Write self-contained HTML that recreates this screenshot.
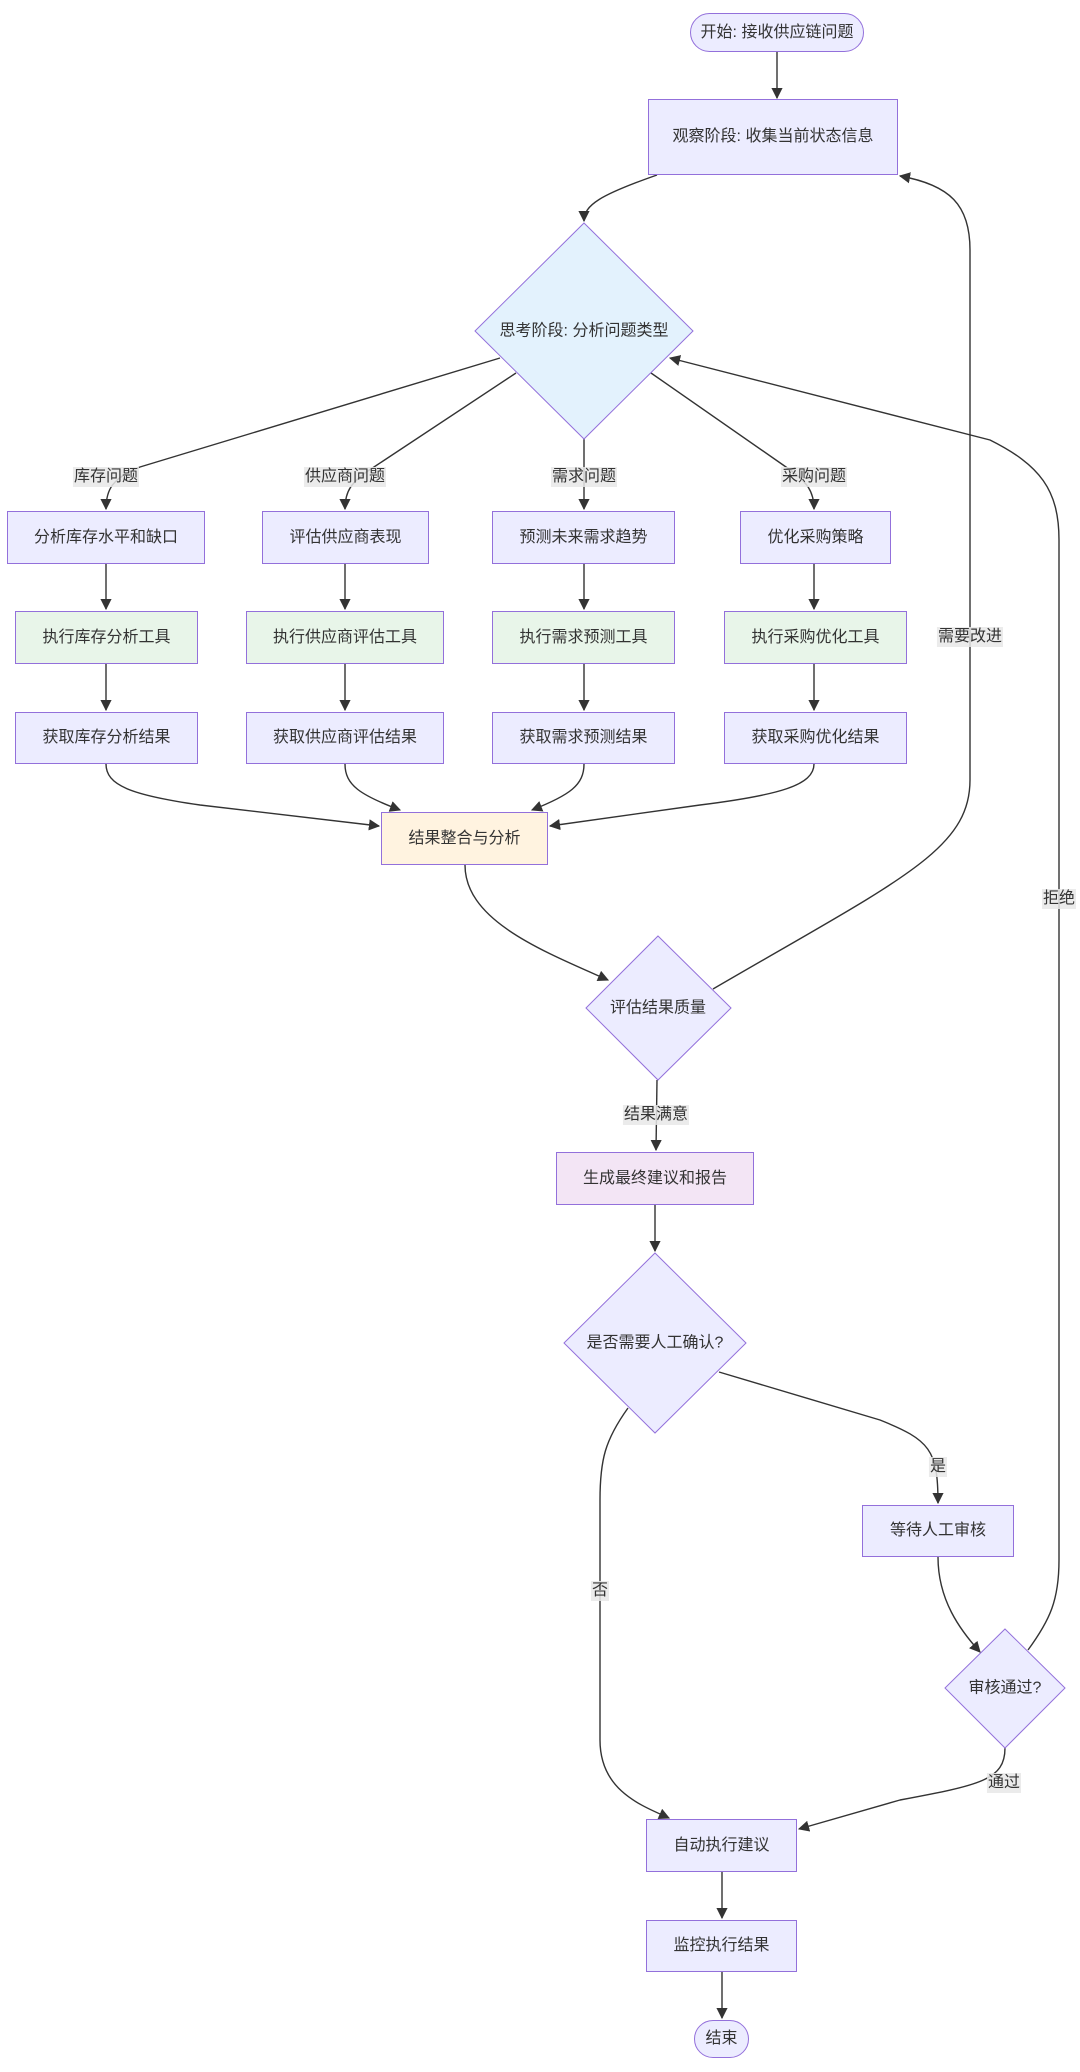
<!DOCTYPE html>
<html><head><meta charset="utf-8"><style>
html,body{margin:0;padding:0;background:#fff;}
body{width:1080px;height:2072px;position:relative;overflow:hidden;font-family:"Liberation Sans","Noto Sans CJK SC",sans-serif;font-size:16px;color:#333;}
.n{position:absolute;box-sizing:border-box;border:1px solid #9370DB;background:#ECECFF;display:flex;align-items:center;justify-content:center;text-align:center;line-height:24px;}
.g{background:#E8F5E9;}
.l{position:absolute;background:rgba(232,232,232,0.85);font-size:16px;line-height:20px;padding:0 1px;transform:translate(-50%,-50%);white-space:nowrap;}
svg{position:absolute;left:0;top:0;}
</style></head><body>
<svg width="1080" height="2072" viewBox="0 0 1080 2072">
<defs><marker id="a" viewBox="0 0 10 10" refX="9" refY="5" markerWidth="8" markerHeight="8" orient="auto-start-reverse"><path d="M0,0 L10,5 L0,10 z" fill="#333"/></marker></defs>
<g fill="none" stroke="#333" stroke-width="1.4">
<path d="M777,52 L777,98" marker-end="url(#a)"/>
<path d="M657,175 C600,195 584,205 584,221" marker-end="url(#a)"/>
<path d="M500,358 L140,467 C112,478 106,490 106,509" marker-end="url(#a)"/>
<path d="M516,373 L374,467 C350,482 345,492 345,509" marker-end="url(#a)"/>
<path d="M584,439 L584,509" marker-end="url(#a)"/>
<path d="M651,373 L786,467 C808,482 814,492 814,509" marker-end="url(#a)"/>
<path d="M106,564 L106,609" marker-end="url(#a)"/>
<path d="M345,564 L345,609" marker-end="url(#a)"/>
<path d="M584,564 L584,609" marker-end="url(#a)"/>
<path d="M814,564 L814,609" marker-end="url(#a)"/>
<path d="M106,664 L106,710" marker-end="url(#a)"/>
<path d="M345,664 L345,710" marker-end="url(#a)"/>
<path d="M584,664 L584,710" marker-end="url(#a)"/>
<path d="M814,664 L814,710" marker-end="url(#a)"/>
<path d="M106,764 C106,785 130,795 200,805 L379,826" marker-end="url(#a)"/>
<path d="M345,764 C345,785 360,795 400,810" marker-end="url(#a)"/>
<path d="M584,764 C584,785 570,795 532,810" marker-end="url(#a)"/>
<path d="M814,764 C814,785 780,795 700,805 L550,826" marker-end="url(#a)"/>
<path d="M465,865 C465,920 540,950 608,980" marker-end="url(#a)"/>
<path d="M713,989 C900,880 970,850 970,780 L970,250 C970,205 950,185 900,176" marker-end="url(#a)"/>
<path d="M1028,1650 C1050,1620 1059,1600 1059,1560 L1059,540 C1059,490 1040,465 990,440 L670,358" marker-end="url(#a)"/>
<path d="M657,1080 L656,1150" marker-end="url(#a)"/>
<path d="M655,1205 L655,1251" marker-end="url(#a)"/>
<path d="M719,1372 L880,1420 C930,1440 938,1450 938,1503" marker-end="url(#a)"/>
<path d="M628,1408 C605,1440 600,1460 600,1500 L600,1740 C600,1790 640,1805 669,1818" marker-end="url(#a)"/>
<path d="M938,1557 C938,1600 960,1630 980,1652" marker-end="url(#a)"/>
<path d="M1005,1748 C1005,1780 980,1785 900,1800 L799,1829" marker-end="url(#a)"/>
<path d="M722,1872 L722,1918" marker-end="url(#a)"/>
<path d="M722,1972 L722,2018" marker-end="url(#a)"/>
</g>
<g stroke="#9370DB" stroke-width="1">
<polygon points="584,223 693,331 584,439 475,331" fill="#E3F2FD"/>
<polygon points="658,936 731,1008 658,1080 586,1008" fill="#ECECFF"/>
<polygon points="655,1253 746,1343 655,1433 564,1343" fill="#ECECFF"/>
<polygon points="1005,1629 1065,1688 1005,1748 945,1688" fill="#ECECFF"/>
</g>
<g font-family="Liberation Sans, Noto Sans CJK SC, sans-serif" font-size="16" fill="#333" text-anchor="middle" dominant-baseline="central">
<text x="584" y="331">思考阶段: 分析问题类型</text>
<text x="658" y="1008">评估结果质量</text>
<text x="655" y="1343">是否需要人工确认?</text>
<text x="1005" y="1688">审核通过?</text>
</g>
</svg>
<div class="n" style="left:690px;top:13px;width:174px;height:39px;border-radius:20px;">开始: 接收供应链问题</div>
<div class="n" style="left:648px;top:99px;width:250px;height:76px;padding:0 20px;">观察阶段: 收集当前状态信息</div>
<div class="n" style="left:7px;top:511px;width:198px;height:53px;">分析库存水平和缺口</div>
<div class="n" style="left:262px;top:511px;width:167px;height:53px;">评估供应商表现</div>
<div class="n" style="left:492px;top:511px;width:183px;height:53px;">预测未来需求趋势</div>
<div class="n" style="left:740px;top:511px;width:151px;height:53px;">优化采购策略</div>
<div class="n g" style="left:15px;top:611px;width:183px;height:53px;">执行库存分析工具</div>
<div class="n g" style="left:246px;top:611px;width:198px;height:53px;">执行供应商评估工具</div>
<div class="n g" style="left:492px;top:611px;width:183px;height:53px;">执行需求预测工具</div>
<div class="n g" style="left:724px;top:611px;width:183px;height:53px;">执行采购优化工具</div>
<div class="n" style="left:15px;top:712px;width:183px;height:52px;">获取库存分析结果</div>
<div class="n" style="left:246px;top:712px;width:198px;height:52px;">获取供应商评估结果</div>
<div class="n" style="left:492px;top:712px;width:183px;height:52px;">获取需求预测结果</div>
<div class="n" style="left:724px;top:712px;width:183px;height:52px;">获取采购优化结果</div>
<div class="n" style="left:381px;top:812px;width:167px;height:53px;background:#FFF3E0;">结果整合与分析</div>
<div class="n" style="left:556px;top:1152px;width:198px;height:53px;background:#F3E5F5;">生成最终建议和报告</div>
<div class="n" style="left:862px;top:1505px;width:152px;height:52px;">等待人工审核</div>
<div class="n" style="left:646px;top:1819px;width:151px;height:53px;">自动执行建议</div>
<div class="n" style="left:646px;top:1920px;width:151px;height:52px;">监控执行结果</div>
<div class="n" style="left:694px;top:2020px;width:55px;height:38px;border-radius:19px;">结束</div>
<div class="l" style="left:106px;top:477px;">库存问题</div>
<div class="l" style="left:345px;top:477px;">供应商问题</div>
<div class="l" style="left:584px;top:477px;">需求问题</div>
<div class="l" style="left:814px;top:477px;">采购问题</div>
<div class="l" style="left:970px;top:637px;">需要改进</div>
<div class="l" style="left:1059px;top:899px;">拒绝</div>
<div class="l" style="left:656px;top:1115px;">结果满意</div>
<div class="l" style="left:938px;top:1467px;">是</div>
<div class="l" style="left:600px;top:1591px;">否</div>
<div class="l" style="left:1004px;top:1783px;">通过</div>
</body></html>
